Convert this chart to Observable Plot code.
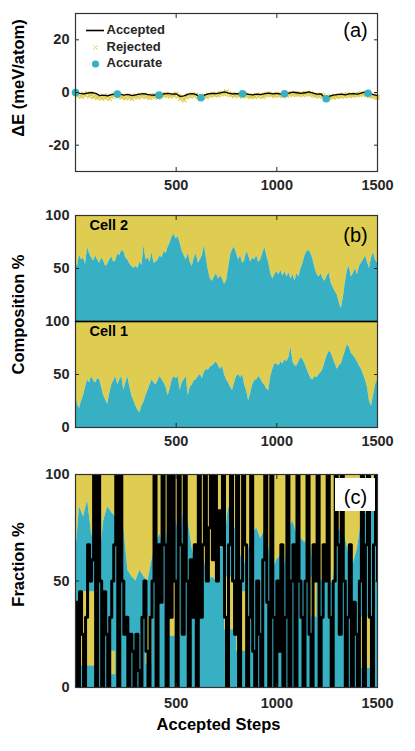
<!DOCTYPE html>
<html><head><meta charset="utf-8">
<script src="https://cdn.jsdelivr.net/npm/d3@7"></script>
<script src="https://cdn.jsdelivr.net/npm/@observablehq/plot@0.6"></script>
<style>
body{margin:0;background:#fff;}
#chart{position:relative;width:415px;height:751px;font-family:"Liberation Sans",Arial,sans-serif;}
#chart svg{position:absolute;left:0;}
</style></head><body><div id="chart"></div>
<script>
// ---------- Panel (a): energy difference ----------
const acceptedSteps = d3.range(0, 1501, 20);
const acceptedDE = [
  0, -0.3, -0.5, -0.2, 0, -0.3, -1.2, -1.0, -1.3, -0.8,
  -0.5, -0.6, -1.0, -0.7, -1.2, -0.9, -0.6, -0.4, -0.8, -1.0,
  -0.9, -1.0, -0.5, -0.3, -0.6, -0.5, -1.5, -1.3, -0.6, -0.4,
  -0.8, -1.9, -1.0, -0.5, -0.3, -0.4, -0.1, 0.2, -0.2, -0.5,
  -0.4, -0.6, -0.3, -0.7, -0.9, -0.6, -0.8, -0.4, -0.2, -0.5,
  -0.3, -0.6, -0.5, -0.2, 0.1, -0.1, -0.3, -0.1, 0.2, -0.2,
  -0.6, -0.5, -2.3, -1.5, -1.0, -0.8, -0.6, -0.9, -0.5, -0.4,
  -0.6, -0.2, 0.2, -0.3, -0.8, -1.2];
const rejectedSteps = d3.range(0, 1501, 10);
const rejectedDE = [
  -0.5,-1.2,-0.8,-1.5,-0.6,-1.0,-0.4,-1.3,-0.9,-1.6,
  -1.1,-2.0,-1.4,-2.2,-1.7,-1.9,-1.2,-2.4,-1.6,-1.0,
  -0.8,-1.4,-1.1,-1.8,-1.5,-2.1,-1.3,-1.7,-2.3,-1.5,
  -1.2,-1.8,-0.9,-1.4,-1.0,-1.6,-1.2,-2.0,-1.5,-1.1,
  -1.4,-1.9,-1.3,-0.8,-1.2,-0.7,-1.0,-1.4,-0.9,-1.1,
  -0.6,-1.3,-2.4,-1.8,-2.9,-1.6,-1.0,-1.4,-0.8,-1.2,
  -0.9,-1.5,-2.3,-1.8,-1.3,-1.6,-0.9,-1.1,-0.6,-0.9,
  -0.7,-1.0,-0.5,-0.2,-0.6,0.3,-0.5,-0.9,-0.7,-1.2,
  -0.8,-1.1,-0.9,-1.4,-0.7,-1.0,-1.3,-1.6,-1.2,-1.5,
  -1.0,-1.3,-0.9,-1.6,-1.1,-0.7,-0.5,-0.9,-0.8,-1.2,
  -0.6,-1.0,-0.9,-1.3,-0.8,-1.1,-0.6,-0.4,-0.9,-0.3,
  -0.6,-0.8,-0.5,-0.9,-0.4,-0.2,-0.7,-0.5,-0.9,-1.1,
  -1.0,-1.4,-0.9,-1.2,-2.2,-2.6,-1.9,-1.5,-1.8,-1.3,
  -1.6,-1.1,-1.4,-1.0,-1.3,-0.8,-1.2,-0.9,-1.1,-0.7,
  -1.0,-0.6,-0.4,-0.9,-0.5,-0.8,-1.1,-1.4,-1.2,-1.7,
  -1.9];
const accurateSteps = [0, 208, 415, 623, 830, 1038, 1245, 1453];
const accurateDE = [0, -0.6, -1.0, -2.0, -0.5, -0.5, -2.4, -0.3];
const legendLabels = ["Accepted", "Rejected", "Accurate"];

// ---------- Panel (b): composition % (cyan species) ----------
const compSteps = d3.range(0, 1501, 10);
const cell2Comp = [
  55,52,63,58,60,54,70,64,60,57,
  62,58,55,60,57,52,54,58,61,56,
  57,64,62,67,66,60,58,54,52,50,
  52,50,56,53,72,58,60,56,65,55,
  56,58,62,60,66,64,70,74,80,82,
  78,80,74,66,62,58,64,56,52,60,
  64,55,58,62,72,60,48,40,38,42,
  45,40,43,40,35,38,50,62,68,70,
  64,58,62,55,57,66,62,56,60,58,
  62,56,58,64,70,62,55,45,40,44,
  47,44,48,43,47,42,46,40,44,38,
  45,42,50,55,62,66,67,64,58,50,
  44,42,45,40,38,43,46,36,32,28,
  25,18,12,22,36,48,52,42,45,50,
  44,52,55,58,62,56,50,60,65,58,
  55];
const cell1Comp = [
  35,22,18,25,30,38,45,42,48,44,
  42,46,45,38,30,26,22,32,40,44,
  48,40,45,48,35,42,48,38,30,25,
  20,16,14,20,24,30,35,40,45,42,
  40,44,48,45,42,38,30,36,45,48,
  46,48,35,42,45,48,30,38,40,44,
  45,48,50,46,52,55,54,57,58,60,
  62,58,55,58,50,45,42,38,35,42,
  48,50,47,50,40,35,25,32,40,44,
  45,48,46,42,40,36,35,48,55,60,
  60,58,62,60,64,62,66,76,62,58,
  58,62,66,64,60,55,50,46,45,48,
  47,50,52,55,62,68,72,70,65,60,
  55,58,60,66,72,78,76,70,68,65,
  62,58,55,50,45,38,25,20,30,40,
  45];
const cellNames = ["Cell 2", "Cell 1"];

// ---------- Panel (c): fraction % ----------
const fracSteps = d3.range(0, 1501, 20);
const fracCyan = [
  62,85,80,88,72,68,60,78,85,82,
  80,84,75,55,52,50,55,52,50,60,
  68,72,65,75,80,78,70,85,78,65,
  58,55,60,50,52,50,65,68,85,80,
  72,62,58,65,72,75,70,74,66,55,
  60,62,58,75,78,72,70,68,72,58,
  55,50,52,48,50,72,75,70,62,58,
  65,78,82,80,85,80];
const wedgeStart = [25, 160, 350, 470, 740, 800, 1170, 1420];
const wedgeEnd   = [105, 200, 380, 520, 790, 860, 1200, 1470];
const wedgeLow   = [10, 6, 11, 24, 27, 17, 33, 9];
const wedgeHigh  = [45, 17, 33, 49, 52, 45, 52, 33];
const blackSteps = d3.range(0, 1501, 10);
const blackFrac = [
  40,0,45,25,0,33,67,50,60,100,
  0,100,50,0,45,25,0,33,50,67,
  100,0,100,50,25,33,0,25,17,0,
  25,8,0,33,50,17,0,33,50,100,
  0,67,40,100,67,0,100,33,100,50,
  0,100,67,25,100,50,0,60,33,67,
  0,100,33,67,100,50,75,100,60,100,
  50,83,67,100,33,0,67,100,50,25,
  100,0,50,100,67,0,33,100,17,0,
  50,25,0,60,100,40,0,100,33,0,
  50,17,67,0,33,100,0,50,67,0,
  100,50,33,0,50,100,25,0,67,50,
  100,0,33,67,50,100,33,0,50,100,
  67,25,100,50,0,33,67,0,40,25,
  0,50,100,0,67,100,33,0,67,100,
  50];

const xTickVals = [500, 1000, 1500];

// ---------- styling ----------
const CYAN = "#37b0c3", YELLOW = "#decd50", INK = "#262626";
const FONT = '"Liberation Sans", Arial, Helvetica, sans-serif';
const style = {background: "transparent", overflow: "visible", fontFamily: FONT};
const W = 415, ML = 75, MR = 38;
const tickText = {fontSize: 14.5, fontWeight: "bold", fill: INK};
const noText = () => "";

function xAxes({labels = true, top = true, bottom = true, pad = 8}) {
  const m = [];
  if (labels) m.push(Plot.axisX({ticks: xTickVals, tickSize: 0, tickPadding: pad, tickFormat: d => String(d), label: null, ...tickText}));
  if (bottom) m.push(Plot.axisX({anchor: "bottom", ticks: xTickVals, tickSize: -4, tickFormat: noText, label: null, stroke: INK}));
  if (top) m.push(Plot.axisX({anchor: "top", ticks: xTickVals, tickSize: -4, tickFormat: noText, label: null, stroke: INK}));
  return m;
}
function yAxes(ticks, tickLabels = ticks) {
  return [
    Plot.axisY({ticks: tickLabels, tickSize: 0, tickPadding: 6, tickFormat: d => String(d), label: null, ...tickText}),
    Plot.axisY({anchor: "left", ticks, tickSize: -4, tickFormat: noText, label: null, stroke: INK}),
    Plot.axisY({anchor: "right", ticks, tickSize: -4, tickFormat: noText, label: null, stroke: INK})
  ];
}
function yLabel(text, dy) {
  return Plot.text([text], {frameAnchor: "left", rotate: -90, dx: -57, dy, fontSize: 16.5, fontWeight: "bold", fill: "black", textAnchor: "middle", lineAnchor: "middle"});
}
function panelTag(text, dy) {
  return Plot.text([text], {frameAnchor: "top-right", dx: -22, dy, fontSize: 20, fill: "black", textAnchor: "middle", lineAnchor: "middle"});
}
const frame = Plot.frame({stroke: "#333", strokeWidth: 1.2});
const chart = document.getElementById("chart");
function place(svg, top) { svg.style.top = top + "px"; chart.appendChild(svg); }

// ---------- (a) ----------
const rejRows = rejectedSteps.map((s, i) => ({step: s, de: rejectedDE[i]}));
const accRows = acceptedSteps.map((s, i) => ({step: s, de: acceptedDE[i]}));
const accuRows = accurateSteps.map((s, i) => ({step: s, de: accurateDE[i]}));

const legendLine = (index, scales, values, dims) => {
  const g = d3.create("svg:g");
  g.append("line").attr("x1", dims.marginLeft + 11).attr("x2", dims.marginLeft + 29)
    .attr("y1", dims.marginTop + 17.5).attr("y2", dims.marginTop + 17.5)
    .attr("stroke", "black").attr("stroke-width", 1.6);
  return g.node();
};

const pa = Plot.plot({
  width: W, height: 200, marginTop: 13, marginBottom: 29, marginLeft: ML, marginRight: MR,
  style,
  x: {domain: [0, 1500]}, y: {domain: [-30, 30]},
  marks: [
    Plot.dot(rejRows, {x: "step", y: "de", symbol: "times", r: 2.2, stroke: YELLOW, strokeWidth: 1.3}),
    Plot.line(accRows, {x: "step", y: "de", stroke: "black", strokeWidth: 1.3}),
    Plot.dot(accuRows, {x: "step", y: "de", r: 3.8, fill: CYAN, stroke: "none"}),
    legendLine,
    Plot.dot([legendLabels[1]], {frameAnchor: "top-left", dx: 20, dy: 34, symbol: "times", r: 2, stroke: YELLOW, strokeWidth: 1}),
    Plot.dot([legendLabels[2]], {frameAnchor: "top-left", dx: 20, dy: 50.5, r: 3.6, fill: CYAN, stroke: "none"}),
    ...legendLabels.map((t, i) => Plot.text([t], {frameAnchor: "top-left", dx: 31, dy: 16.8 + 16.5 * i, fontSize: 13, fontWeight: "bold", fill: INK, textAnchor: "start", lineAnchor: "middle"})),
    panelTag("(a)", 17),
    yLabel("ΔE (meV/atom)", -14.5),
    ...xAxes({pad: 8}),
    ...yAxes([-20, 0, 20]),
    frame
  ]
});
place(pa, 0);

// ---------- (b) ----------
const c2Rows = compSteps.map((s, i) => ({step: s, v: cell2Comp[i]}));
const c1Rows = compSteps.map((s, i) => ({step: s, v: cell1Comp[i]}));
function compMarks(rows, name) {
  return [
    Plot.areaY(rows, {x: "step", y1: "v", y2: 100, fill: YELLOW}),
    Plot.areaY(rows, {x: "step", y: "v", fill: CYAN}),
    Plot.text([name], {frameAnchor: "top-left", dx: 14, dy: 10, fontSize: 14.5, fontWeight: "bold", fill: "black", textAnchor: "start", lineAnchor: "middle"})
  ];
}
const pb2 = Plot.plot({
  width: W, height: 121, marginTop: 15, marginBottom: 0, marginLeft: ML, marginRight: MR,
  style,
  x: {domain: [0, 1500]}, y: {domain: [0, 100]},
  marks: [
    ...compMarks(c2Rows, cellNames[0]),
    panelTag("(b)", 20),
    yLabel("Composition %", 46),
    ...xAxes({labels: false, top: true, bottom: false}),
    ...yAxes([0, 50, 100], [50, 100]),
    frame
  ]
});
const pb1 = Plot.plot({
  width: W, height: 129, marginTop: 0, marginBottom: 23, marginLeft: ML, marginRight: MR,
  style,
  x: {domain: [0, 1500]}, y: {domain: [0, 100]},
  marks: [
    ...compMarks(c1Rows, cellNames[1]),
    ...xAxes({top: false, bottom: true, pad: 8}),
    ...yAxes([0, 50, 100]),
    frame,
    Plot.ruleY([100], {stroke: "black", strokeWidth: 1.6})
  ]
});
place(pb2, 200);
place(pb1, 321);

// ---------- (c) ----------
const fracRows = fracSteps.map((s, i) => ({step: s, v: fracCyan[i]}));
const wedgeRows = wedgeStart.map((s, i) => ({x1: s, x2: wedgeEnd[i], y1: wedgeLow[i], y2: wedgeHigh[i]}));
const blackRows = blackSteps.map((s, i) => ({step: s, v: blackFrac[i]}));
const tagBox = (index, scales, values, dims) => {
  const g = d3.create("svg:g");
  g.append("rect").attr("x", dims.width - dims.marginRight - 42).attr("y", dims.marginTop + 4)
    .attr("width", 40).attr("height", 33).attr("fill", "white");
  return g.node();
};
const pc = Plot.plot({
  width: W, height: 301, marginTop: 24, marginBottom: 64, marginLeft: ML, marginRight: MR,
  style,
  x: {domain: [0, 1500]}, y: {domain: [0, 100]},
  marks: [
    Plot.areaY(fracRows, {x: "step", y1: "v", y2: 100, fill: YELLOW}),
    Plot.areaY(fracRows, {x: "step", y: "v", fill: CYAN}),
    Plot.rect(wedgeRows, {x1: "x1", x2: "x2", y1: "y1", y2: "y2", fill: YELLOW}),
    Plot.line(blackRows, {x: "step", y: "v", curve: "step-after", stroke: "black", strokeWidth: 3, clip: true}),
    tagBox,
    panelTag("(c)", 23.5),
    yLabel("Fraction %", -16.5),
    Plot.text(["Accepted Steps"], {frameAnchor: "bottom", dx: -8, dy: 37, fontSize: 16.5, fontWeight: "bold", fill: "black", textAnchor: "middle", lineAnchor: "middle"}),
    ...xAxes({pad: 10}),
    ...yAxes([0, 50, 100]),
    frame
  ]
});
place(pc, 450);
</script></body></html>
